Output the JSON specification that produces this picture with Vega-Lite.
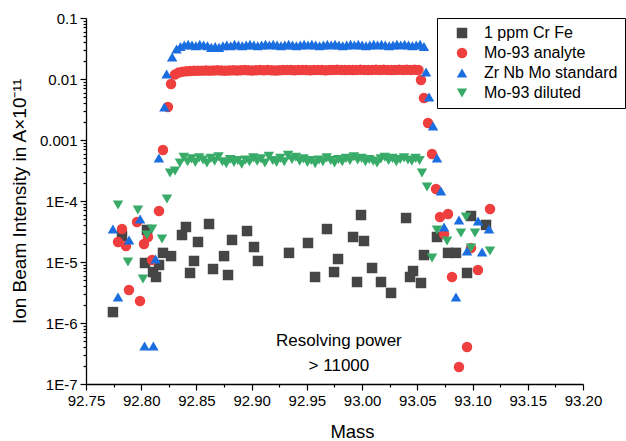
{
  "$schema": "https://vega.github.io/schema/vega-lite/v6.json",
  "width": 497,
  "height": 366,
  "autosize": {"type": "none"},
  "padding": {"left": 86, "top": 18, "right": 43, "bottom": 57},
  "background": "white",
  "config": {"view": {"stroke": null}, "font": "Liberation Sans"},
  "resolve": {"scale": {"x": "shared", "y": "shared"}, "axis": {"x": "independent", "y": "independent"}},
  "layer": [
    {
      "data": {"values": [
        {"series":"1 ppm Cr Fe","mass":92.7744,"value":1.51e-6},
        {"series":"1 ppm Cr Fe","mass":92.7826,"value":2.67e-5},
        {"series":"1 ppm Cr Fe","mass":92.8034,"value":9.64e-6},
        {"series":"1 ppm Cr Fe","mass":92.8052,"value":3.35e-5},
        {"series":"1 ppm Cr Fe","mass":92.8107,"value":6.85e-6},
        {"series":"1 ppm Cr Fe","mass":92.8134,"value":5.68e-6},
        {"series":"1 ppm Cr Fe","mass":92.8161,"value":8.93e-6},
        {"series":"1 ppm Cr Fe","mass":92.8197,"value":1.41e-5},
        {"series":"1 ppm Cr Fe","mass":92.827,"value":1.25e-5},
        {"series":"1 ppm Cr Fe","mass":92.8369,"value":2.77e-5},
        {"series":"1 ppm Cr Fe","mass":92.8405,"value":3.75e-5},
        {"series":"1 ppm Cr Fe","mass":92.8442,"value":6.61e-6},
        {"series":"1 ppm Cr Fe","mass":92.8478,"value":1.04e-5},
        {"series":"1 ppm Cr Fe","mass":92.8514,"value":2.13e-5},
        {"series":"1 ppm Cr Fe","mass":92.8614,"value":4.2e-5},
        {"series":"1 ppm Cr Fe","mass":92.865,"value":7.67e-6},
        {"series":"1 ppm Cr Fe","mass":92.875,"value":1.25e-5},
        {"series":"1 ppm Cr Fe","mass":92.8786,"value":6.12e-6},
        {"series":"1 ppm Cr Fe","mass":92.8822,"value":2.3e-5},
        {"series":"1 ppm Cr Fe","mass":92.8958,"value":3.22e-5},
        {"series":"1 ppm Cr Fe","mass":92.9021,"value":1.76e-5},
        {"series":"1 ppm Cr Fe","mass":92.9057,"value":1.04e-5},
        {"series":"1 ppm Cr Fe","mass":92.9338,"value":1.41e-5},
        {"series":"1 ppm Cr Fe","mass":92.951,"value":2.05e-5},
        {"series":"1 ppm Cr Fe","mass":92.9574,"value":5.68e-6},
        {"series":"1 ppm Cr Fe","mass":92.9682,"value":3.47e-5},
        {"series":"1 ppm Cr Fe","mass":92.9746,"value":6.85e-6},
        {"series":"1 ppm Cr Fe","mass":92.9782,"value":1.12e-5},
        {"series":"1 ppm Cr Fe","mass":92.9918,"value":2.57e-5},
        {"series":"1 ppm Cr Fe","mass":92.9954,"value":4.7e-6},
        {"series":"1 ppm Cr Fe","mass":92.999,"value":5.89e-5},
        {"series":"1 ppm Cr Fe","mass":93.0017,"value":2.21e-5},
        {"series":"1 ppm Cr Fe","mass":93.009,"value":7.98e-6},
        {"series":"1 ppm Cr Fe","mass":93.0171,"value":4.7e-6},
        {"series":"1 ppm Cr Fe","mass":93.0262,"value":3.11e-6},
        {"series":"1 ppm Cr Fe","mass":93.0398,"value":5.26e-5},
        {"series":"1 ppm Cr Fe","mass":93.0434,"value":5.68e-6},
        {"series":"1 ppm Cr Fe","mass":93.0461,"value":7.11e-6},
        {"series":"1 ppm Cr Fe","mass":93.0533,"value":4.53e-6},
        {"series":"1 ppm Cr Fe","mass":93.056,"value":1.3e-5},
        {"series":"1 ppm Cr Fe","mass":93.0678,"value":2.57e-5},
        {"series":"1 ppm Cr Fe","mass":93.0778,"value":1.41e-5},
        {"series":"1 ppm Cr Fe","mass":93.085,"value":1.41e-5},
        {"series":"1 ppm Cr Fe","mass":93.095,"value":6.61e-6},
        {"series":"1 ppm Cr Fe","mass":93.0986,"value":5.68e-5},
        {"series":"1 ppm Cr Fe","mass":93.1122,"value":4.05e-5},

        {"series":"Mo-93 analyte","mass":92.779,"value":2.13e-5},
        {"series":"Mo-93 analyte","mass":92.7826,"value":3.47e-5},
        {"series":"Mo-93 analyte","mass":92.7862,"value":1.83e-5},
        {"series":"Mo-93 analyte","mass":92.7889,"value":3.47e-6},
        {"series":"Mo-93 analyte","mass":92.7962,"value":4.53e-5},
        {"series":"Mo-93 analyte","mass":92.7989,"value":2.3e-6},
        {"series":"Mo-93 analyte","mass":92.8025,"value":1.97e-5},
        {"series":"Mo-93 analyte","mass":92.8061,"value":2.57e-5},
        {"series":"Mo-93 analyte","mass":92.8098,"value":1.08e-5},
        {"series":"Mo-93 analyte","mass":92.8161,"value":6.85e-5},
        {"series":"Mo-93 analyte","mass":92.8197,"value":6.85e-4},
        {"series":"Mo-93 analyte","mass":92.8242,"value":3.47e-3},
        {"series":"Mo-93 analyte","mass":92.827,"value":8.28e-3},
        {"series":"Mo-93 analyte","mass":92.8305,"value":0.0118},
        {"series":"Mo-93 analyte","mass":92.834,"value":0.0128},
        {"series":"Mo-93 analyte","mass":92.8375,"value":0.0132},
        {"series":"Mo-93 analyte","mass":92.841,"value":0.0134},
        {"series":"Mo-93 analyte","mass":92.8445,"value":0.0135},
        {"series":"Mo-93 analyte","mass":92.848,"value":0.0136},
        {"series":"Mo-93 analyte","mass":92.8515,"value":0.0137},
        {"series":"Mo-93 analyte","mass":92.855,"value":0.0137},
        {"series":"Mo-93 analyte","mass":92.8585,"value":0.0138},
        {"series":"Mo-93 analyte","mass":92.862,"value":0.0137},
        {"series":"Mo-93 analyte","mass":92.8655,"value":0.0138},
        {"series":"Mo-93 analyte","mass":92.869,"value":0.0139},
        {"series":"Mo-93 analyte","mass":92.8725,"value":0.0138},
        {"series":"Mo-93 analyte","mass":92.876,"value":0.0137},
        {"series":"Mo-93 analyte","mass":92.8795,"value":0.0138},
        {"series":"Mo-93 analyte","mass":92.883,"value":0.0139},
        {"series":"Mo-93 analyte","mass":92.8865,"value":0.0138},
        {"series":"Mo-93 analyte","mass":92.89,"value":0.0139},
        {"series":"Mo-93 analyte","mass":92.8935,"value":0.014},
        {"series":"Mo-93 analyte","mass":92.897,"value":0.0139},
        {"series":"Mo-93 analyte","mass":92.9005,"value":0.0138},
        {"series":"Mo-93 analyte","mass":92.904,"value":0.0139},
        {"series":"Mo-93 analyte","mass":92.9075,"value":0.014},
        {"series":"Mo-93 analyte","mass":92.911,"value":0.0139},
        {"series":"Mo-93 analyte","mass":92.9145,"value":0.014},
        {"series":"Mo-93 analyte","mass":92.918,"value":0.0139},
        {"series":"Mo-93 analyte","mass":92.9215,"value":0.0138},
        {"series":"Mo-93 analyte","mass":92.925,"value":0.0139},
        {"series":"Mo-93 analyte","mass":92.9285,"value":0.014},
        {"series":"Mo-93 analyte","mass":92.932,"value":0.0141},
        {"series":"Mo-93 analyte","mass":92.9355,"value":0.014},
        {"series":"Mo-93 analyte","mass":92.939,"value":0.0139},
        {"series":"Mo-93 analyte","mass":92.9425,"value":0.014},
        {"series":"Mo-93 analyte","mass":92.946,"value":0.0141},
        {"series":"Mo-93 analyte","mass":92.9495,"value":0.014},
        {"series":"Mo-93 analyte","mass":92.953,"value":0.0139},
        {"series":"Mo-93 analyte","mass":92.9565,"value":0.014},
        {"series":"Mo-93 analyte","mass":92.96,"value":0.0141},
        {"series":"Mo-93 analyte","mass":92.9635,"value":0.014},
        {"series":"Mo-93 analyte","mass":92.967,"value":0.0139},
        {"series":"Mo-93 analyte","mass":92.9705,"value":0.014},
        {"series":"Mo-93 analyte","mass":92.974,"value":0.0141},
        {"series":"Mo-93 analyte","mass":92.9775,"value":0.0142},
        {"series":"Mo-93 analyte","mass":92.981,"value":0.0141},
        {"series":"Mo-93 analyte","mass":92.9845,"value":0.014},
        {"series":"Mo-93 analyte","mass":92.988,"value":0.0141},
        {"series":"Mo-93 analyte","mass":92.9915,"value":0.014},
        {"series":"Mo-93 analyte","mass":92.995,"value":0.0141},
        {"series":"Mo-93 analyte","mass":92.9985,"value":0.0142},
        {"series":"Mo-93 analyte","mass":93.002,"value":0.0141},
        {"series":"Mo-93 analyte","mass":93.0055,"value":0.014},
        {"series":"Mo-93 analyte","mass":93.009,"value":0.0141},
        {"series":"Mo-93 analyte","mass":93.0125,"value":0.0142},
        {"series":"Mo-93 analyte","mass":93.016,"value":0.0141},
        {"series":"Mo-93 analyte","mass":93.0195,"value":0.0142},
        {"series":"Mo-93 analyte","mass":93.023,"value":0.0141},
        {"series":"Mo-93 analyte","mass":93.0265,"value":0.014},
        {"series":"Mo-93 analyte","mass":93.03,"value":0.0141},
        {"series":"Mo-93 analyte","mass":93.0335,"value":0.0142},
        {"series":"Mo-93 analyte","mass":93.037,"value":0.0141},
        {"series":"Mo-93 analyte","mass":93.0405,"value":0.0142},
        {"series":"Mo-93 analyte","mass":93.044,"value":0.0141},
        {"series":"Mo-93 analyte","mass":93.0475,"value":0.0142},
        {"series":"Mo-93 analyte","mass":93.051,"value":0.0141},
        {"series":"Mo-93 analyte","mass":93.0533,"value":9.64e-3},
        {"series":"Mo-93 analyte","mass":93.056,"value":4.89e-3},
        {"series":"Mo-93 analyte","mass":93.0597,"value":1.9e-3},
        {"series":"Mo-93 analyte","mass":93.0633,"value":5.89e-4},
        {"series":"Mo-93 analyte","mass":93.0669,"value":1.57e-4},
        {"series":"Mo-93 analyte","mass":93.0705,"value":5.47e-5},
        {"series":"Mo-93 analyte","mass":93.0742,"value":2.88e-5},
        {"series":"Mo-93 analyte","mass":93.0778,"value":6.12e-5},
        {"series":"Mo-93 analyte","mass":93.0814,"value":5.68e-6},
        {"series":"Mo-93 analyte","mass":93.0877,"value":1.9e-7},
        {"series":"Mo-93 analyte","mass":93.095,"value":4.05e-7},
        {"series":"Mo-93 analyte","mass":93.0986,"value":1.7e-5},
        {"series":"Mo-93 analyte","mass":93.1049,"value":7.4e-6},
        {"series":"Mo-93 analyte","mass":93.1158,"value":7.4e-5},

        {"series":"Zr Nb Mo standard","mass":92.7744,"value":3.47e-5},
        {"series":"Zr Nb Mo standard","mass":92.779,"value":2.67e-6},
        {"series":"Zr Nb Mo standard","mass":92.789,"value":2.3e-5},
        {"series":"Zr Nb Mo standard","mass":92.799,"value":5.07e-5},
        {"series":"Zr Nb Mo standard","mass":92.803,"value":4.2e-7},
        {"series":"Zr Nb Mo standard","mass":92.811,"value":4.2e-7},
        {"series":"Zr Nb Mo standard","mass":92.813,"value":1.12e-5},
        {"series":"Zr Nb Mo standard","mass":92.816,"value":5.07e-4},
        {"series":"Zr Nb Mo standard","mass":92.821,"value":3.47e-3},
        {"series":"Zr Nb Mo standard","mass":92.823,"value":0.0121},
        {"series":"Zr Nb Mo standard","mass":92.828,"value":0.023},
        {"series":"Zr Nb Mo standard","mass":92.832,"value":0.031},
        {"series":"Zr Nb Mo standard","mass":92.8355,"value":0.034},
        {"series":"Zr Nb Mo standard","mass":92.839,"value":0.036},
        {"series":"Zr Nb Mo standard","mass":92.8425,"value":0.037},
        {"series":"Zr Nb Mo standard","mass":92.846,"value":0.036},
        {"series":"Zr Nb Mo standard","mass":92.8495,"value":0.035},
        {"series":"Zr Nb Mo standard","mass":92.853,"value":0.037},
        {"series":"Zr Nb Mo standard","mass":92.8565,"value":0.036},
        {"series":"Zr Nb Mo standard","mass":92.86,"value":0.035},
        {"series":"Zr Nb Mo standard","mass":92.8635,"value":0.033},
        {"series":"Zr Nb Mo standard","mass":92.867,"value":0.034},
        {"series":"Zr Nb Mo standard","mass":92.8705,"value":0.033},
        {"series":"Zr Nb Mo standard","mass":92.874,"value":0.035},
        {"series":"Zr Nb Mo standard","mass":92.8775,"value":0.036},
        {"series":"Zr Nb Mo standard","mass":92.881,"value":0.035},
        {"series":"Zr Nb Mo standard","mass":92.8845,"value":0.037},
        {"series":"Zr Nb Mo standard","mass":92.888,"value":0.036},
        {"series":"Zr Nb Mo standard","mass":92.8915,"value":0.035},
        {"series":"Zr Nb Mo standard","mass":92.895,"value":0.036},
        {"series":"Zr Nb Mo standard","mass":92.8985,"value":0.037},
        {"series":"Zr Nb Mo standard","mass":92.902,"value":0.036},
        {"series":"Zr Nb Mo standard","mass":92.9055,"value":0.035},
        {"series":"Zr Nb Mo standard","mass":92.909,"value":0.036},
        {"series":"Zr Nb Mo standard","mass":92.9125,"value":0.037},
        {"series":"Zr Nb Mo standard","mass":92.916,"value":0.036},
        {"series":"Zr Nb Mo standard","mass":92.9195,"value":0.037},
        {"series":"Zr Nb Mo standard","mass":92.923,"value":0.036},
        {"series":"Zr Nb Mo standard","mass":92.9265,"value":0.035},
        {"series":"Zr Nb Mo standard","mass":92.93,"value":0.036},
        {"series":"Zr Nb Mo standard","mass":92.9335,"value":0.037},
        {"series":"Zr Nb Mo standard","mass":92.937,"value":0.036},
        {"series":"Zr Nb Mo standard","mass":92.9405,"value":0.035},
        {"series":"Zr Nb Mo standard","mass":92.944,"value":0.036},
        {"series":"Zr Nb Mo standard","mass":92.9475,"value":0.037},
        {"series":"Zr Nb Mo standard","mass":92.951,"value":0.036},
        {"series":"Zr Nb Mo standard","mass":92.9545,"value":0.037},
        {"series":"Zr Nb Mo standard","mass":92.958,"value":0.036},
        {"series":"Zr Nb Mo standard","mass":92.9615,"value":0.035},
        {"series":"Zr Nb Mo standard","mass":92.965,"value":0.036},
        {"series":"Zr Nb Mo standard","mass":92.9685,"value":0.037},
        {"series":"Zr Nb Mo standard","mass":92.972,"value":0.036},
        {"series":"Zr Nb Mo standard","mass":92.9755,"value":0.037},
        {"series":"Zr Nb Mo standard","mass":92.979,"value":0.036},
        {"series":"Zr Nb Mo standard","mass":92.9825,"value":0.035},
        {"series":"Zr Nb Mo standard","mass":92.986,"value":0.036},
        {"series":"Zr Nb Mo standard","mass":92.9895,"value":0.037},
        {"series":"Zr Nb Mo standard","mass":92.993,"value":0.036},
        {"series":"Zr Nb Mo standard","mass":92.9965,"value":0.037},
        {"series":"Zr Nb Mo standard","mass":93.0,"value":0.036},
        {"series":"Zr Nb Mo standard","mass":93.0035,"value":0.035},
        {"series":"Zr Nb Mo standard","mass":93.007,"value":0.036},
        {"series":"Zr Nb Mo standard","mass":93.0105,"value":0.037},
        {"series":"Zr Nb Mo standard","mass":93.014,"value":0.036},
        {"series":"Zr Nb Mo standard","mass":93.0175,"value":0.037},
        {"series":"Zr Nb Mo standard","mass":93.021,"value":0.036},
        {"series":"Zr Nb Mo standard","mass":93.0245,"value":0.035},
        {"series":"Zr Nb Mo standard","mass":93.028,"value":0.036},
        {"series":"Zr Nb Mo standard","mass":93.0315,"value":0.037},
        {"series":"Zr Nb Mo standard","mass":93.035,"value":0.036},
        {"series":"Zr Nb Mo standard","mass":93.0385,"value":0.037},
        {"series":"Zr Nb Mo standard","mass":93.042,"value":0.036},
        {"series":"Zr Nb Mo standard","mass":93.0455,"value":0.035},
        {"series":"Zr Nb Mo standard","mass":93.049,"value":0.036},
        {"series":"Zr Nb Mo standard","mass":93.0525,"value":0.037},
        {"series":"Zr Nb Mo standard","mass":93.056,"value":0.034},
        {"series":"Zr Nb Mo standard","mass":93.0579,"value":0.013},
        {"series":"Zr Nb Mo standard","mass":93.0606,"value":5.07e-3},
        {"series":"Zr Nb Mo standard","mass":93.0642,"value":1.7e-3},
        {"series":"Zr Nb Mo standard","mass":93.0678,"value":5.07e-4},
        {"series":"Zr Nb Mo standard","mass":93.0714,"value":1.46e-4},
        {"series":"Zr Nb Mo standard","mass":93.0742,"value":3.75e-5},
        {"series":"Zr Nb Mo standard","mass":93.085,"value":2.67e-6},
        {"series":"Zr Nb Mo standard","mass":93.0877,"value":4.89e-5},
        {"series":"Zr Nb Mo standard","mass":93.095,"value":1.51e-5},
        {"series":"Zr Nb Mo standard","mass":93.105,"value":4.7e-5},
        {"series":"Zr Nb Mo standard","mass":93.1086,"value":1.46e-5},
        {"series":"Zr Nb Mo standard","mass":93.1149,"value":3.47e-5},

        {"series":"Mo-93 diluted","mass":92.779,"value":8.59e-5},
        {"series":"Mo-93 diluted","mass":92.788,"value":1.0e-5},
        {"series":"Mo-93 diluted","mass":92.797,"value":7.11e-5},
        {"series":"Mo-93 diluted","mass":92.8016,"value":5.26e-6},
        {"series":"Mo-93 diluted","mass":92.8052,"value":2.77e-5},
        {"series":"Mo-93 diluted","mass":92.8098,"value":3.47e-5},
        {"series":"Mo-93 diluted","mass":92.8188,"value":2.38e-5},
        {"series":"Mo-93 diluted","mass":92.8233,"value":1.08e-4},
        {"series":"Mo-93 diluted","mass":92.8261,"value":2.88e-4},
        {"series":"Mo-93 diluted","mass":92.8306,"value":3.11e-4},
        {"series":"Mo-93 diluted","mass":92.835,"value":4.2e-4},
        {"series":"Mo-93 diluted","mass":92.8385,"value":5.2e-4},
        {"series":"Mo-93 diluted","mass":92.842,"value":4.4e-4},
        {"series":"Mo-93 diluted","mass":92.8455,"value":4.9e-4},
        {"series":"Mo-93 diluted","mass":92.849,"value":4.3e-4},
        {"series":"Mo-93 diluted","mass":92.8525,"value":5.1e-4},
        {"series":"Mo-93 diluted","mass":92.856,"value":4.7e-4},
        {"series":"Mo-93 diluted","mass":92.8595,"value":4.2e-4},
        {"series":"Mo-93 diluted","mass":92.863,"value":5.0e-4},
        {"series":"Mo-93 diluted","mass":92.8665,"value":4.5e-4},
        {"series":"Mo-93 diluted","mass":92.87,"value":5.3e-4},
        {"series":"Mo-93 diluted","mass":92.8735,"value":4.4e-4},
        {"series":"Mo-93 diluted","mass":92.877,"value":4.1e-4},
        {"series":"Mo-93 diluted","mass":92.8805,"value":4.8e-4},
        {"series":"Mo-93 diluted","mass":92.884,"value":4.3e-4},
        {"series":"Mo-93 diluted","mass":92.8875,"value":4.6e-4},
        {"series":"Mo-93 diluted","mass":92.891,"value":4.0e-4},
        {"series":"Mo-93 diluted","mass":92.8945,"value":4.7e-4},
        {"series":"Mo-93 diluted","mass":92.898,"value":4.4e-4},
        {"series":"Mo-93 diluted","mass":92.9015,"value":5.1e-4},
        {"series":"Mo-93 diluted","mass":92.905,"value":4.5e-4},
        {"series":"Mo-93 diluted","mass":92.9085,"value":4.9e-4},
        {"series":"Mo-93 diluted","mass":92.912,"value":4.2e-4},
        {"series":"Mo-93 diluted","mass":92.9155,"value":5.4e-4},
        {"series":"Mo-93 diluted","mass":92.919,"value":4.6e-4},
        {"series":"Mo-93 diluted","mass":92.9225,"value":4.3e-4},
        {"series":"Mo-93 diluted","mass":92.926,"value":5.0e-4},
        {"series":"Mo-93 diluted","mass":92.9295,"value":4.4e-4},
        {"series":"Mo-93 diluted","mass":92.933,"value":5.6e-4},
        {"series":"Mo-93 diluted","mass":92.9365,"value":4.8e-4},
        {"series":"Mo-93 diluted","mass":92.94,"value":5.2e-4},
        {"series":"Mo-93 diluted","mass":92.9435,"value":4.5e-4},
        {"series":"Mo-93 diluted","mass":92.947,"value":4.9e-4},
        {"series":"Mo-93 diluted","mass":92.9505,"value":4.3e-4},
        {"series":"Mo-93 diluted","mass":92.954,"value":4.6e-4},
        {"series":"Mo-93 diluted","mass":92.9575,"value":4.1e-4},
        {"series":"Mo-93 diluted","mass":92.961,"value":4.7e-4},
        {"series":"Mo-93 diluted","mass":92.9645,"value":4.4e-4},
        {"series":"Mo-93 diluted","mass":92.968,"value":5.1e-4},
        {"series":"Mo-93 diluted","mass":92.9715,"value":4.6e-4},
        {"series":"Mo-93 diluted","mass":92.975,"value":4.2e-4},
        {"series":"Mo-93 diluted","mass":92.9785,"value":4.8e-4},
        {"series":"Mo-93 diluted","mass":92.982,"value":4.4e-4},
        {"series":"Mo-93 diluted","mass":92.9855,"value":5.0e-4},
        {"series":"Mo-93 diluted","mass":92.989,"value":4.6e-4},
        {"series":"Mo-93 diluted","mass":92.9925,"value":5.3e-4},
        {"series":"Mo-93 diluted","mass":92.996,"value":4.7e-4},
        {"series":"Mo-93 diluted","mass":92.9995,"value":5.0e-4},
        {"series":"Mo-93 diluted","mass":93.003,"value":4.4e-4},
        {"series":"Mo-93 diluted","mass":93.0065,"value":4.8e-4},
        {"series":"Mo-93 diluted","mass":93.01,"value":4.5e-4},
        {"series":"Mo-93 diluted","mass":93.0135,"value":4.2e-4},
        {"series":"Mo-93 diluted","mass":93.017,"value":4.9e-4},
        {"series":"Mo-93 diluted","mass":93.0205,"value":5.2e-4},
        {"series":"Mo-93 diluted","mass":93.024,"value":4.6e-4},
        {"series":"Mo-93 diluted","mass":93.0275,"value":5.0e-4},
        {"series":"Mo-93 diluted","mass":93.031,"value":4.4e-4},
        {"series":"Mo-93 diluted","mass":93.0345,"value":4.8e-4},
        {"series":"Mo-93 diluted","mass":93.038,"value":5.1e-4},
        {"series":"Mo-93 diluted","mass":93.0415,"value":4.7e-4},
        {"series":"Mo-93 diluted","mass":93.045,"value":4.5e-4},
        {"series":"Mo-93 diluted","mass":93.0485,"value":5.0e-4},
        {"series":"Mo-93 diluted","mass":93.052,"value":4.6e-4},
        {"series":"Mo-93 diluted","mass":93.0542,"value":2.88e-4},
        {"series":"Mo-93 diluted","mass":93.0588,"value":1.7e-4},
        {"series":"Mo-93 diluted","mass":93.0633,"value":1.16e-5},
        {"series":"Mo-93 diluted","mass":93.0678,"value":3.35e-5},
        {"series":"Mo-93 diluted","mass":93.0769,"value":2.21e-5},
        {"series":"Mo-93 diluted","mass":93.0895,"value":2.98e-5},
        {"series":"Mo-93 diluted","mass":93.0941,"value":5.47e-5},
        {"series":"Mo-93 diluted","mass":93.0986,"value":1.7e-5},
        {"series":"Mo-93 diluted","mass":93.1022,"value":2.98e-5},
        {"series":"Mo-93 diluted","mass":93.1158,"value":1.51e-5}
      ]},
      "mark": {"type": "point", "filled": true, "opacity": 1, "size": 110},
      "encoding": {
        "x": {
          "field": "mass", "type": "quantitative", "title": "Mass",
          "scale": {"domain": [92.75, 93.2], "nice": false, "zero": false},
          "axis": {
            "orient": "bottom",
            "values": [92.75, 92.8, 92.85, 92.9, 92.95, 93.0, 93.05, 93.1, 93.15, 93.2],
            "format": ".2f",
            "tickSize": 6,
            "grid": false, "domainColor": "black", "domainWidth": 1.3, "tickColor": "black", "tickWidth": 1.2,
            "labelColor": "black", "labelFontSize": 15, "labelFont": "Liberation Sans", "labelPadding": 3,
            "labelFlush": false, "labelOverlap": false,
            "titleFontSize": 18.5, "titleFont": "Liberation Sans", "titleFontWeight": "normal", "titleColor": "black", "titlePadding": 14,
            "titleX": 266
          }
        },
        "y": {
          "field": "value", "type": "quantitative", "title": "Ion Beam Intensity in A×10⁻¹¹",
          "scale": {"type": "log", "domain": [1e-7, 0.1], "nice": false},
          "axis": {
            "orient": "left",
            "values": [1e-7, 1e-6, 1e-5, 1e-4, 0.001, 0.01, 0.1],
            "labelExpr": "datum.value > 0.05 ? '0.1' : datum.value > 0.005 ? '0.01' : datum.value > 0.0005 ? '0.001' : '1E' + round(log(datum.value)/LN10)",
            "tickSize": 6,
            "grid": false, "domainColor": "black", "domainWidth": 1.3, "tickColor": "black", "tickWidth": 1.2,
            "labelColor": "black", "labelFontSize": 15, "labelFont": "Liberation Sans", "labelPadding": 3,
            "labelOverlap": false, "labelFlush": false,
            "titleFontSize": 19, "titleFont": "Liberation Sans", "titleFontWeight": "normal", "titleColor": "black", "titlePadding": 10
          }
        },
        "color": {
          "field": "series", "type": "nominal",
          "scale": {"domain": ["1 ppm Cr Fe", "Mo-93 analyte", "Zr Nb Mo standard", "Mo-93 diluted"], "range": ["#454545", "#ee3e3e", "#1b6edf", "#38ab69"]},
          "legend": {"title": null, "orient": "none", "legendX": 351, "legendY": 0, "strokeColor": "black", "fillColor": "white", "padding": 7, "labelFontSize": 16, "labelFont": "Liberation Sans", "labelColor": "black", "symbolSize": 110, "rowPadding": 4, "symbolOffset": 10, "labelOffset": 14, "labelLimit": 300}
        },
        "shape": {
          "field": "series", "type": "nominal",
          "scale": {"domain": ["1 ppm Cr Fe", "Mo-93 analyte", "Zr Nb Mo standard", "Mo-93 diluted"], "range": ["square", "circle", "triangle-up", "triangle-down"]},
          "legend": {"title": null, "orient": "none", "legendX": 351, "legendY": 0, "strokeColor": "black", "fillColor": "white", "padding": 7, "labelFontSize": 16, "labelFont": "Liberation Sans", "labelColor": "black", "symbolSize": 110, "rowPadding": 4, "symbolOffset": 10, "labelOffset": 14, "labelLimit": 300}
        }
      }
    },
    {
      "data": {"values": [{"label": "Resolving power\n> 11000", "mass": 92.979, "value": 6.8e-7}]},
      "mark": {"type": "text", "font": "Liberation Sans", "fontSize": 17, "color": "black", "align": "center", "baseline": "top", "lineBreak": "\n", "lineHeight": 25},
      "encoding": {
        "x": {
          "field": "mass", "type": "quantitative",
          "axis": {"orient": "bottom", "title": null, "labels": false, "domain": false, "grid": false, "tickSize": 3, "tickColor": "black", "tickWidth": 1.2,
                   "values": [92.775, 92.825, 92.875, 92.925, 92.975, 93.025, 93.075, 93.125, 93.175]}
        },
        "y": {
          "field": "value", "type": "quantitative",
          "axis": {"orient": "left", "title": null, "labels": false, "domain": false, "grid": false, "tickSize": 3, "tickColor": "black", "tickWidth": 1.2,
                   "values": [2e-7, 3e-7, 4e-7, 5e-7, 6e-7, 7e-7, 8e-7, 9e-7, 2e-6, 3e-6, 4e-6, 5e-6, 6e-6, 7e-6, 8e-6, 9e-6, 2e-5, 3e-5, 4e-5, 5e-5, 6e-5, 7e-5, 8e-5, 9e-5, 2e-4, 3e-4, 4e-4, 5e-4, 6e-4, 7e-4, 8e-4, 9e-4, 0.002, 0.003, 0.004, 0.005, 0.006, 0.007, 0.008, 0.009, 0.02, 0.03, 0.04, 0.05, 0.06, 0.07, 0.08, 0.09]}
        },
        "text": {"field": "label"}
      }
    }
  ]
}
